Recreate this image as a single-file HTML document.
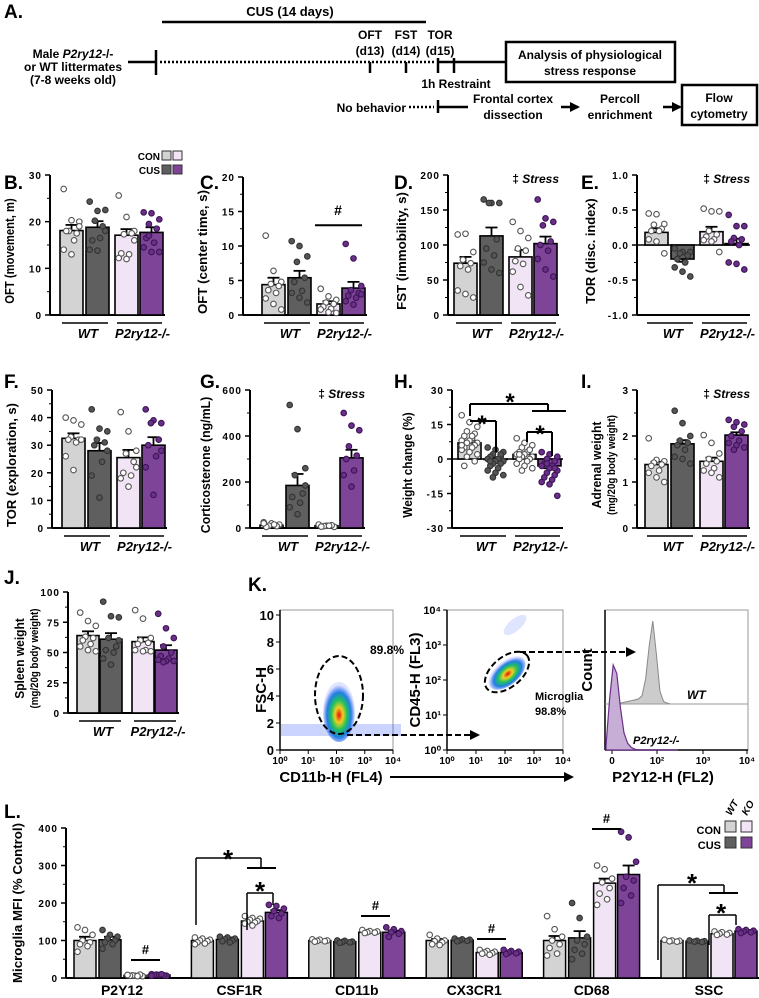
<!DOCTYPE html>
<html><head><meta charset="utf-8"><style>
html,body{margin:0;padding:0;background:#fff}
svg{display:block;font-family:"Liberation Sans",Arial,sans-serif}
text{font-weight:bold}
</style></head><body>
<svg id="fig" width="759" height="998" viewBox="0 0 759 998" xmlns="http://www.w3.org/2000/svg">
<defs>
<radialGradient id="dens" cx="50%" cy="55%" r="50%"><stop offset="0" stop-color="#e01010"/><stop offset="0.25" stop-color="#f0d020"/><stop offset="0.5" stop-color="#20c060"/><stop offset="0.75" stop-color="#2080e0"/><stop offset="1" stop-color="#3050ff" stop-opacity="0.15"/></radialGradient>
<marker id="ah" markerUnits="userSpaceOnUse" markerWidth="10" markerHeight="10" refX="8" refY="5" orient="auto"><path d="M0,0 L10,5 L0,10 z" fill="#000"/></marker>
</defs>
<g font-size="12">
<text x="4" y="18" font-size="19">A.</text>
<text x="290" y="16" text-anchor="middle" font-size="13">CUS (14 days)</text>
<line x1="162" y1="22" x2="426" y2="22" stroke="#000" stroke-width="2.5"/>
<text x="73" y="58" text-anchor="middle">Male <tspan font-style="italic">P2ry12</tspan>-/-</text>
<text x="73" y="71" text-anchor="middle">or WT littermates</text>
<text x="73" y="84" text-anchor="middle">(7-8 weeks old)</text>
<line x1="128" y1="62" x2="156" y2="62" stroke="#000" stroke-width="2.5"/>
<line x1="156" y1="50" x2="156" y2="75" stroke="#000" stroke-width="2.5"/>
<line x1="160" y1="62" x2="436" y2="62" stroke="#000" stroke-width="2.5" stroke-dasharray="2,2"/>
<line x1="370" y1="62" x2="370" y2="73" stroke="#000" stroke-width="2.5"/>
<line x1="406" y1="62" x2="406" y2="73" stroke="#000" stroke-width="2.5"/>
<line x1="438" y1="58" x2="438" y2="73" stroke="#000" stroke-width="2.5"/>
<line x1="454" y1="58" x2="454" y2="73" stroke="#000" stroke-width="2.5"/>
<line x1="438" y1="62" x2="506" y2="62" stroke="#000" stroke-width="2.5"/>
<text x="370" y="39" text-anchor="middle">OFT</text><text x="370" y="55" text-anchor="middle">(d13)</text>
<text x="406" y="39" text-anchor="middle">FST</text><text x="406" y="55" text-anchor="middle">(d14)</text>
<text x="440" y="39" text-anchor="middle">TOR</text><text x="440" y="55" text-anchor="middle">(d15)</text>
<text x="456" y="88" text-anchor="middle">1h Restraint</text>
<rect x="506" y="42" width="169" height="40" fill="#fff" stroke="#000" stroke-width="2.5"/>
<text x="590" y="59" text-anchor="middle">Analysis of physiological</text>
<text x="590" y="75" text-anchor="middle">stress response</text>
<text x="406" y="112" text-anchor="end">No behavior</text>
<line x1="409" y1="107" x2="434" y2="107" stroke="#000" stroke-width="2.5" stroke-dasharray="2,2"/>
<line x1="438" y1="100" x2="438" y2="113" stroke="#000" stroke-width="2.5"/>
<line x1="438" y1="107" x2="468" y2="107" stroke="#000" stroke-width="2.5"/>
<text x="513" y="103" text-anchor="middle">Frontal cortex</text><text x="513" y="119" text-anchor="middle">dissection</text>
<line x1="561" y1="107" x2="578" y2="107" stroke="#000" stroke-width="2.5" marker-end="url(#ah)"/>
<text x="620" y="103" text-anchor="middle">Percoll</text><text x="620" y="119" text-anchor="middle">enrichment</text>
<line x1="663" y1="107" x2="680" y2="107" stroke="#000" stroke-width="2.5" marker-end="url(#ah)"/>
<rect x="682" y="85" width="75" height="40" fill="#fff" stroke="#000" stroke-width="2.5"/>
<text x="719" y="102" text-anchor="middle">Flow</text><text x="719" y="118" text-anchor="middle">cytometry</text>
</g>
<g font-size="10">
<text x="160" y="160" text-anchor="end">CON</text><text x="160" y="174" text-anchor="end">CUS</text>
<rect x="162" y="151" width="9" height="9" fill="#d3d3d3" stroke="#333"/>
<rect x="173" y="151" width="9" height="9" fill="#f1e4f4" stroke="#333"/>
<rect x="162" y="165" width="9" height="9" fill="#5f5f5f" stroke="#333"/>
<rect x="173" y="165" width="9" height="9" fill="#7d4497" stroke="#333"/>
</g>
<g font-size="19">
<text x="4" y="189">B.</text>
<text x="200" y="189">C.</text>
<text x="394" y="189">D.</text>
<text x="581" y="189">E.</text>
<text x="4" y="388">F.</text>
<text x="200" y="388">G.</text>
<text x="394" y="388">H.</text>
<text x="581" y="388">I.</text>
<text x="4" y="584">J.</text>
<text x="248" y="591">K.</text>
<text x="4" y="818">L.</text>
</g>
<g id="charts"></g>
</svg>
<script>
// ---- data ----
const groups = ['WT', 'P2ry12-/-'];
const seriesNames = ['CON WT', 'CUS WT', 'CON KO', 'CUS KO'];
const bMeans = [18.1, 18.8, 17.1, 17.7];
const bSem = [1.2, 1.3, 1.3, 1.1];
const bPts = [[27,20.3,20,18,17.5,18,16,14,13,19],[24.3,22.3,22.5,20.2,19,16,16.5,14,13.8,18],[25.6,21,18,17.3,17.5,13.2,13,12.2,12,16],[22,21.8,20.5,19.5,18.5,16.5,15.5,14.5,13.5,13.5,17]];
const cMeans = [4.4, 5.4, 1.6, 3.9];
const cSem = [1.0, 1.0, 0.4, 0.9];
const cPts = [[11.5,6.4,4.8,4.5,4.2,3.6,3.2,2.4,1.6,0.8],[10.7,10.0,8.5,7.7,5.4,4.8,3.5,3.2,2.5,1.8],[3.8,2.7,2.2,1.8,1.6,1.2,0.9,0.8,0.4,0.3],[10.3,8.2,4.2,3.6,3.2,2.8,2.5,2.0,1.5,3.0]];
const dMeans = [74, 113, 83, 102];
const dSem = [9, 12, 10, 10];
const dPts = [[115,116,90,79,74,70,65,35,30,25],[165,160,160,160,108,95,85,75,65,60],[133,120,110,95,92,77,73,62,40,28],[165,138,133,128,105,100,92,80,65,55]];
const eMeans = [0.18, -0.2, 0.19, 0.02];
const eSem = [0.06, 0.04, 0.07, 0.07];
const ePts = [[0.45,0.44,0.3,0.29,0.23,0.2,0.2,0.08,0.05,-0.12],[-0.05,-0.1,-0.1,-0.12,-0.15,-0.2,-0.25,-0.32,-0.38,-0.45],[0.52,0.48,0.48,0.2,0.15,0.12,0.08,0.07,0.05,-0.1],[0.43,0.27,0.27,0.1,0.08,0.05,0.0,-0.25,-0.27,-0.35]];
const fMeans = [32.5, 28, 25.5, 30];
const fSem = [1.8, 2.8, 2.8, 2.9];
const fPts = [[40,39,37.5,33,32,32,31,26,21,32],[43,36,35,32,31,30,24,19,11,28],[42,35,28,27,24,20,19,18,15,22],[43,39,38,38,32,30,26,22,12,28]];
const gMeans = [12, 185, 10, 305];
const gSem = [4, 50, 4, 35];
const gPts = [[25,20,15,10,8,5,15,20],[535,430,260,230,150,135,110,90,60,185],[15,10,5,8,12,6,10],[500,445,425,355,315,300,250,230,180]];
const hMeans = [7, 0, 2, -3];
const hSem = [1, 0.8, 0.8, 1];
const hPts = [[19,16,14,12,11,10,9,8,8,7,7,6,5,5,4,3,2,1,-1,-3,10,6],[5,4,3,2,1,1,0,0,-1,-1,-2,-2,-3,-4,-5,-6,-7,-8,2,-1],[9,7,6,5,4,3,3,2,2,1,1,0,0,-1,-2,-3,-4,-5,4,2],[3,2,1,0,-1,-2,-3,-3,-4,-5,-6,-7,-8,-9,-10,-11,-16,-2,-4]];
const iMeans = [1.38, 1.83, 1.45, 2.02];
const iSem = [0.06, 0.08, 0.08, 0.06];
const iPts = [[1.95,1.48,1.45,1.42,1.38,1.35,1.25,1.2,1.1,1.0],[2.55,2.28,2.0,1.9,1.85,1.8,1.7,1.55,1.5,1.4],[2.02,1.85,1.62,1.5,1.45,1.4,1.3,1.25,1.2,1.1],[2.35,2.3,2.25,2.2,2.1,2.0,1.9,1.85,1.8,1.75,1.7]];
const jMeans = [64, 61, 59, 52];
const jSem = [3.5, 5, 3.5, 4];
const jPts = [[83,76,72,63,62,60,57,55,52,51],[92,80,79,62,55,52,50,45,40,60],[85,78,62,60,58,57,52,52,51,51],[82,70,62,55,50,47,45,44,43,43,42]];
const lCategories = ['P2Y12', 'CSF1R', 'CD11b', 'CX3CR1', 'CD68', 'SSC'];
const lConWT = [100, 100, 100, 100, 100, 100];
const lCusWT = [102, 103, 97, 101, 107, 98];
const lConKO = [7, 152, 122, 68, 253, 118];
const lCusKO = [8, 175, 122, 68, 276, 125];
const lSem = [[10,4,2,4,12,2],[8,5,3,2,18,2],[1,4,2,2,12,2],[1,6,4,2,24,3]];
const lPts = [
 [[135,128,115,100,95,90,85,70],[128,115,110,105,100,95,90,78],[8,6,5,7,9,6,5,8],[10,8,6,9,7,8,10,6]],
 [[108,105,102,100,98,95,92,90],[110,108,105,103,100,98,95],[165,160,158,155,152,150,148,145,140],[195,192,185,178,172,165,160]],
 [[103,102,100,99,98,97],[100,99,97,96,95,94],[128,125,124,122,121,120],[135,130,125,122,118,110]],
 [[115,105,100,98,95,90,88],[105,103,102,100,99,98],[75,72,70,68,66,65,62],[75,72,70,68,66,64]],
 [[165,130,110,100,90,80,65,60],[200,160,110,100,90,75,65,50],[300,290,265,255,240,225,210,195],[390,375,310,270,260,240,220,200]],
 [[102,100,99,98,97],[100,99,98,97,96],[124,122,120,118,116,115],[130,128,126,124,122,120]]
];
const histBins = [0, 1, 2, 3, 4, 5, 6, 7, 8, 9, 10, 11, 12, 13, 14, 15, 16, 17, 18, 19, 20];
const histWT = [0, 0, 0, 0, 1, 2, 3, 4, 5, 6, 10, 30, 70, 100, 60, 15, 3, 1, 0, 0, 0];
const histKO = [5, 60, 100, 90, 50, 20, 8, 3, 1, 0, 0, 0, 0, 0, 0, 0, 0, 0, 0, 0, 0];

const fills = ['#d3d3d3', '#5f5f5f', '#f1e4f4', '#7d4497'];
const ptFill = ['#ffffff', '#555555', '#ffffff', '#6a2f88'];
const ptStroke = ['#555555', '#333333', '#555555', '#3d1555'];
const NS = 'http://www.w3.org/2000/svg';
const root = document.getElementById('charts');
function mk(tag, at, parent) {
  const e = document.createElementNS(NS, tag);
  for (const k in at) e.setAttribute(k, at[k]);
  (parent || root).appendChild(e);
  return e;
}
function line(x1, y1, x2, y2, w, parent) {
  const e = mk('line', {x1, y1, x2, y2, stroke: '#000', 'stroke-width': w || 1.5}, parent);
  
  
  return e;
}
function txt(x, y, s, at, parent) {
  const e = mk('text', Object.assign({x, y}, at || {}), parent);
  e.textContent = s;
  
  
  return e;
}

function panel(c) {
  const g = mk('g', {});
  
  
  const y = v => c.bot - (v - c.min) / (c.max - c.min) * (c.bot - c.top);
  const base = y(Math.max(c.min, 0));
  const offs = c.offs || [0, 26, 55, 80];
  const bw = c.bw || 23;
  const right = c.b0 + offs[3] + bw + 2;
  const ax = line(c.ax, c.top, c.ax, c.bot, 2, g);
  
  const xa = line(c.ax, c.bot, right, c.bot, 2, g);
  
  if (c.min < 0) {
    const zl = line(c.ax, base, right, base, 1.5, g);
    
  }
  c.ticks.forEach((t, i) => {
    const tk = line(c.ax - 5, y(t), c.ax, y(t), 1.5, g);
    
    const tl = txt(c.ax - 8, y(t) + 4, c.tickLabels[i], {'text-anchor': 'end', 'font-size': 10, 'letter-spacing': 1}, g);
    
    if (i < c.ticks.length - 1) {
      const mid = (t + c.ticks[i + 1]) / 2;
      const mt = line(c.ax - 3, y(mid), c.ax, y(mid), 1, g);
      
    }
  });
  const cy = (c.top + c.bot) / 2 + 6;
  c.ylabel.forEach((s, k) => {
    const lx = c.ax - c.ylOff + k * 14 - (c.ylabel.length - 1) * 14;
    const len = s.length * (k === 0 ? 6.2 : 5.0);
    const yl = txt(lx, cy, s, {'text-anchor': 'middle', 'font-size': k === 0 ? 13 : 11, textLength: len, lengthAdjust: 'spacingAndGlyphs', transform: `rotate(-90 ${lx} ${cy})`}, g);
    
  });
  for (let s = 0; s < 4; s++) {
    const x0 = c.b0 + offs[s];
    const m = c.means[s];
    const top = Math.min(y(m), base), h = Math.abs(y(m) - base);
    const r = mk('rect', {x: x0, y: top, width: bw, height: Math.max(h, 0.5), fill: fills[s], stroke: '#000', 'stroke-width': 1.6}, g);
    
    
    const cx = x0 + bw / 2;
    const ey = m >= 0 ? m + c.sem[s] : m - c.sem[s];
    const e1 = line(cx, y(m), cx, y(ey), 1.8, g);
    
    const e2 = line(cx - 6, y(ey), cx + 6, y(ey), 1.8, g);
    
    c.pts[s].forEach((v, i) => {
      const jx = cx + ((i * 3) % 7 - 3) * 2.6;
      const p = mk('circle', {cx: jx, cy: y(v), r: 2.8, fill: ptFill[s], stroke: ptStroke[s], 'stroke-width': 1.1}, g);
      
      
    });
  }
  [[0, 1], [2, 3]].forEach((pr, gi) => {
    const xa1 = c.b0 + offs[pr[0]] + 2, xa2 = c.b0 + offs[pr[1]] + bw - 1;
    const gl = line(xa1, c.bot + 8, xa2, c.bot + 8, 1.5, g);
    
    const gt = txt((xa1 + xa2) / 2 + 3, c.bot + 23, groups[gi], {'text-anchor': 'middle', 'font-size': 13, 'font-style': 'italic'}, g);
    
  });
  if (c.stress) {
    const st = txt(right, c.top + 8, '‡ ', {'text-anchor': 'end', 'font-size': 12}, g);
    
    const ts = mk('tspan', {'font-style': 'italic'}, st);
    ts.textContent = 'Stress';
  }
  c.y = y;
  return c;
}

const B = panel({name: 'panel-b-oft-movement', ax: 50, top: 175, bot: 315, min: 0, max: 30, ticks: [0,10,20,30], tickLabels: ['0','10','20','30'], means: bMeans, sem: bSem, pts: bPts, b0: 60, ylabel: ['OFT (movement, m)'], ylOff: 36});
const C = panel({name: 'panel-c-oft-center', ax: 243, top: 177, bot: 315, min: 0, max: 20, ticks: [0,5,10,15,20], tickLabels: ['0','5','10','15','20'], means: cMeans, sem: cSem, pts: cPts, b0: 262, ylabel: ['OFT (center time, s)'], ylOff: 36});
const D = panel({name: 'panel-d-fst', ax: 448, top: 175, bot: 315, min: 0, max: 200, ticks: [0,50,100,150,200], tickLabels: ['0','50','100','150','200'], means: dMeans, sem: dSem, pts: dPts, b0: 454, ylabel: ['FST (immobility, s)'], ylOff: 42, stress: true});
const E = panel({name: 'panel-e-tor-index', ax: 637, top: 175, bot: 315, min: -1, max: 1, ticks: [-1,-0.5,0,0.5,1], tickLabels: ['-1.0','-0.5','0.0','0.5','1.0'], means: eMeans, sem: eSem, pts: ePts, b0: 645, ylabel: ['TOR (disc. index)'], ylOff: 42, stress: true});
const F = panel({name: 'panel-f-tor-exploration', ax: 52, top: 390, bot: 528, min: 0, max: 50, ticks: [0,10,20,30,40,50], tickLabels: ['0','10','20','30','40','50'], means: fMeans, sem: fSem, pts: fPts, b0: 62, ylabel: ['TOR (exploration, s)'], ylOff: 36});
const G = panel({name: 'panel-g-corticosterone', ax: 250, top: 390, bot: 528, min: 0, max: 600, ticks: [0,200,400,600], tickLabels: ['0','200','400','600'], means: gMeans, sem: gSem, pts: gPts, b0: 260, ylabel: ['Corticosterone (ng/mL)'], ylOff: 40, stress: true});
const H = panel({name: 'panel-h-weight-change', ax: 452, top: 390, bot: 528, min: -30, max: 30, ticks: [-30,-15,0,15,30], tickLabels: ['-30','-15','0','15','30'], means: hMeans, sem: hSem, pts: hPts, b0: 458, ylabel: ['Weight change (%)'], ylOff: 40});
const I = panel({name: 'panel-i-adrenal-weight', ax: 637, top: 390, bot: 528, min: 0, max: 3, ticks: [0,1,2,3], tickLabels: ['0','1','2','3'], means: iMeans, sem: iSem, pts: iPts, b0: 645, ylabel: ['Adrenal weight', '(mg/20g body weight)'], ylOff: 22, stress: true});
const J = panel({name: 'panel-j-spleen-weight', ax: 68, top: 592, bot: 713, min: 0, max: 100, ticks: [0,25,50,75,100], tickLabels: ['0','25','50','75','100'], means: jMeans, sem: jSem, pts: jPts, b0: 77, offs: [0,23,55,78], bw: 22, ylabel: ['Spleen weight', '(mg/20g body weight)'], ylOff: 30});

line(315, C.y(13), 362, C.y(13), 2);
txt(338, C.y(14.5), '#', {'text-anchor': 'middle', 'font-size': 14});
line(470, 404, 548, 404, 2); line(470, 404, 470, 416, 2); line(548, 404, 548, 411, 2); line(532, 411, 566, 411, 2);
txt(510, 410, '*', {'text-anchor': 'middle', 'font-size': 24});
line(470, 421, 496, 421, 2); line(496, 421, 496, 452, 2);
txt(482, 432, '*', {'text-anchor': 'middle', 'font-size': 24});
line(527, 432, 552, 432, 2); line(527, 432, 527, 442, 2); line(552, 432, 552, 456, 2);
txt(540, 442, '*', {'text-anchor': 'middle', 'font-size': 24});

// ---- K flow cytometry ----
const K = mk('g', {});


const sup = ['10⁰','10¹','10²','10³','10⁴'];
function fbox(x1, y1, x2, y2, nm) {
  const r = mk('rect', {x: x1, y: y1, width: x2 - x1, height: y2 - y1, fill: 'none', stroke: '#999', 'stroke-width': 1}, K);
  
  
  line(x1, y1, x1, y2, 1.5, K); line(x1, y2, x2, y2, 1.5, K);
}
fbox(280, 610, 393, 750, 'flow-plot-fsc-cd11b');
fbox(447, 610, 563, 750, 'flow-plot-cd45-cd11b');
fbox(605, 610, 748, 750, 'flow-histogram-p2y12');
[0,2,4,6,8,10].forEach(v => { const yy = 750 - v * 13.5; line(276, yy, 280, yy, 1, K); txt(274, yy + 5, String(v), {'text-anchor': 'end', 'font-size': 13}, K); });
sup.forEach((s, i) => { const xx = 280 + i * 28.25; line(xx, 750, xx, 754, 1, K); txt(xx, 764, s, {'text-anchor': 'middle', 'font-size': 10}, K); });
sup.forEach((s, i) => { const yy = 750 - i * 35; line(443, yy, 447, yy, 1, K); txt(441, yy + 4, s, {'text-anchor': 'end', 'font-size': 11}, K); });
sup.forEach((s, i) => { const xx = 447 + i * 29; line(xx, 750, xx, 754, 1, K); txt(xx, 764, s, {'text-anchor': 'middle', 'font-size': 10}, K); });
[['0',612],['10²',657],['10³',703],['10⁴',747]].forEach(a => { line(a[1], 750, a[1], 754, 1, K); txt(a[1], 764, a[0], {'text-anchor': 'middle', 'font-size': 10}, K); });
const bl = mk('rect', {x: 281, y: 724, width: 120, height: 12, fill: '#3050ff', opacity: 0.25}, K);

const d1 = mk('ellipse', {cx: 339, cy: 712, rx: 16, ry: 30, fill: 'url(#dens)'}, K);

const d2 = mk('ellipse', {cx: 507, cy: 673, rx: 22, ry: 12, fill: 'url(#dens)', transform: 'rotate(-40 507 673)'}, K);

const d3 = mk('ellipse', {cx: 515, cy: 625, rx: 14, ry: 6, fill: '#3050ff', opacity: 0.15, transform: 'rotate(-40 515 625)'}, K);

const g1 = mk('ellipse', {cx: 339, cy: 695, rx: 24, ry: 39, fill: 'none', stroke: '#000', 'stroke-width': 2, 'stroke-dasharray': '6,3'}, K);

const g2 = mk('ellipse', {cx: 507, cy: 672, rx: 26, ry: 15, fill: 'none', stroke: '#000', 'stroke-width': 2, 'stroke-dasharray': '6,3', transform: 'rotate(-40 507 672)'}, K);

txt(370, 654, '89.8%', {'font-size': 12}, K);
txt(535, 700, 'Microglia', {'font-size': 11}, K);
txt(535, 715, '98.8%', {'font-size': 11}, K);
const a1 = line(347, 735, 478, 735, 2, K); a1.setAttribute('stroke-dasharray', '6,3'); a1.setAttribute('marker-end', 'url(#ah)');
const a2 = line(520, 652, 634, 652, 2, K); a2.setAttribute('stroke-dasharray', '6,3'); a2.setAttribute('marker-end', 'url(#ah)');
const hx = b => 606 + b * 3.6;
let pw = `M${hx(0)},704 `; histBins.forEach((b, i) => { pw += `L${hx(b)},${704 - histWT[i] * 0.83} `; }); pw += `L${hx(20)},704 Z`;
const hw = mk('path', {d: pw, fill: '#cccccc', stroke: '#888', 'stroke-width': 1}, K);


line(605, 704, 748, 704, 1, K).setAttribute('stroke', '#999');
let pk = `M${hx(0)},750 `; histBins.forEach((b, i) => { pk += `L${hx(b)},${750 - histKO[i] * 0.85} `; }); pk += `L${hx(20)},750 Z`;
const hk = mk('path', {d: pk, fill: '#c7aed6', stroke: '#6a2f88', 'stroke-width': 1.2}, K);


txt(687, 699, 'WT', {'font-size': 12, 'font-style': 'italic'}, K);
txt(633, 744, 'P2ry12-/-', {'font-size': 11, 'font-style': 'italic'}, K);
txt(266, 690, 'FSC-H', {'font-size': 15, 'text-anchor': 'middle', transform: 'rotate(-90 266 690)'}, K);
txt(420, 680, 'CD45-H (FL3)', {'font-size': 15, 'text-anchor': 'middle', transform: 'rotate(-90 420 680)'}, K);
txt(592, 670, 'Count', {'font-size': 15, 'text-anchor': 'middle', transform: 'rotate(-90 592 670)'}, K);
txt(331, 782, 'CD11b-H (FL4)', {'font-size': 15, 'text-anchor': 'middle'}, K);
line(390, 777, 572, 777, 2, K).setAttribute('marker-end', 'url(#ah)');
txt(663, 782, 'P2Y12-H (FL2)', {'font-size': 15, 'text-anchor': 'middle'}, K);

// ---- L ----
const L = mk('g', {});


const lTicks = [0, 100, 200, 300, 400];
const ly = v => 978 - v * 0.375;
const lSeries = [lConWT, lCusWT, lConKO, lCusKO];
const lx0 = i => 74 + i * 117.4;
const lOff = [0, 25, 50, 74];
line(66, 828, 66, 978, 2, L); line(66, 978, 759, 978, 2, L);
lTicks.forEach((t, i) => { line(61, ly(t), 66, ly(t), 1.5, L); txt(58, ly(t) + 4, String(t), {'text-anchor': 'end', 'font-size': 10, 'letter-spacing': 1}, L); if (i < lTicks.length - 1) line(63, ly(t + 50), 66, ly(t + 50), 1, L); });
txt(22, 903, 'Microglia MFI (% Control)', {'text-anchor': 'middle', 'font-size': 13, textLength: 160, lengthAdjust: 'spacingAndGlyphs', transform: 'rotate(-90 22 903)'}, L);
lCategories.forEach((cat, gi) => {
  for (let s = 0; s < 4; s++) {
    const x0 = lx0(gi) + lOff[s];
    const m = lSeries[s][gi];
    const r = mk('rect', {x: x0, y: ly(m), width: 22, height: 978 - ly(m), fill: fills[s], stroke: '#000', 'stroke-width': 1.5}, L);
    
    
    const cx = x0 + 11, e = m + lSem[s][gi];
    line(cx, ly(m), cx, ly(e), 1.8, L); line(cx - 6, ly(e), cx + 6, ly(e), 1.8, L);
    lPts[gi][s].forEach((v, i) => {
      const p = mk('circle', {cx: cx + ((i * 3) % 7 - 3) * 2.5, cy: ly(v), r: 2.8, fill: ptFill[s], stroke: ptStroke[s], 'stroke-width': 1.1}, L);
      
      
    });
  }
  const cl = txt(lx0(gi) + 48, 995, cat, {'text-anchor': 'middle', 'font-size': 14}, L);
  
});
const hashes = [[131, 160, 960], [361, 390, 916], [477, 506, 939], [592, 621, 829]];
hashes.forEach(h => { line(h[0], h[2], h[1], h[2], 2, L); txt((h[0] + h[1]) / 2, h[2] - 6, '#', {'text-anchor': 'middle', 'font-size': 13}, L); });
line(196, 925, 196, 858, 1.5, L); line(196, 858, 261, 858, 1.5, L); line(261, 858, 261, 868, 1.5, L); line(247, 868, 276, 868, 2, L);
txt(228, 868, '*', {'text-anchor': 'middle', 'font-size': 26}, L);
line(247, 930, 247, 893, 1.5, L); line(247, 893, 273, 893, 1.5, L); line(273, 893, 273, 905, 1.5, L);
txt(260, 900, '*', {'text-anchor': 'middle', 'font-size': 26}, L);
line(658, 960, 658, 885, 1.5, L); line(658, 885, 724, 885, 1.5, L); line(724, 885, 724, 893, 1.5, L); line(709, 893, 738, 893, 2, L);
txt(692, 892, '*', {'text-anchor': 'middle', 'font-size': 26}, L);
line(709, 945, 709, 915, 1.5, L); line(709, 915, 736, 915, 1.5, L); line(736, 915, 736, 925, 1.5, L);
txt(721, 922, '*', {'text-anchor': 'middle', 'font-size': 26}, L);
txt(721, 834, 'CON', {'text-anchor': 'end', 'font-size': 11}, L);
txt(721, 849, 'CUS', {'text-anchor': 'end', 'font-size': 11}, L);
[[725, 821, 0], [741, 821, 2], [725, 837, 1], [741, 837, 3]].forEach(b => {
  const r = mk('rect', {x: b[0], y: b[1], width: 11, height: 11, fill: fills[b[2]], stroke: '#333', 'stroke-width': 1}, L);
  
  
});
txt(731, 816, 'WT', {'font-size': 10, 'font-style': 'italic', transform: 'rotate(-60 731 816)'}, L);
txt(747, 816, 'KO', {'font-size': 10, 'font-style': 'italic', transform: 'rotate(-60 747 816)'}, L);
</script>
</body></html>
